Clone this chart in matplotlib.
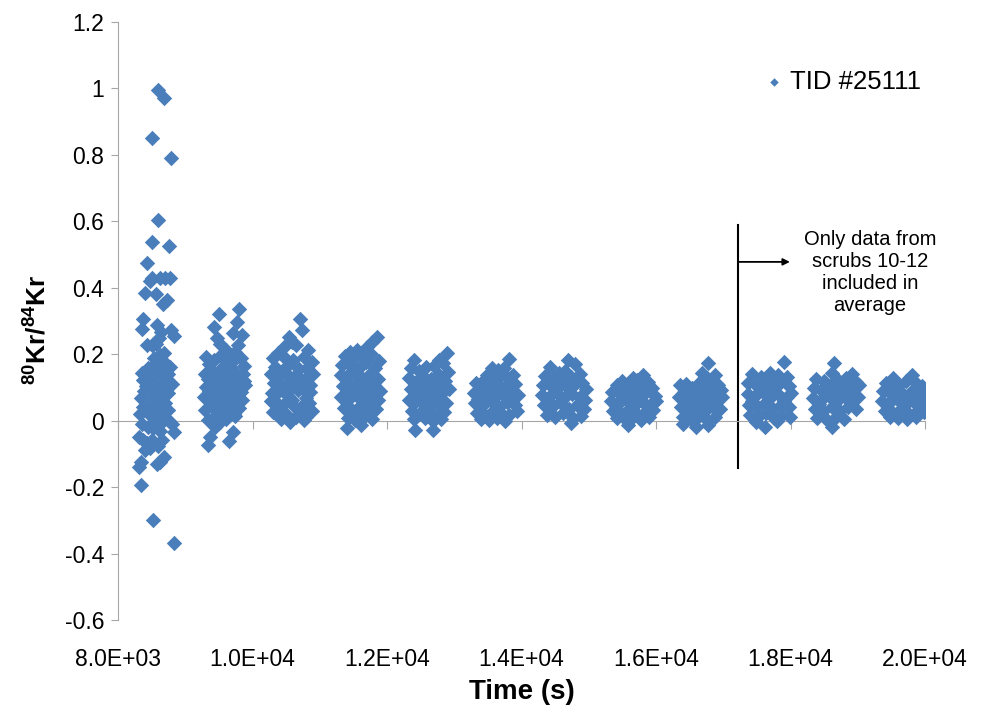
import matplotlib.pyplot as plt
import numpy as np

plt.rcParams['font.family'] = ['Liberation Sans', 'DejaVu Sans']
plt.rcParams['mathtext.fontset'] = 'custom'
plt.rcParams['mathtext.rm'] = 'Liberation Sans'
plt.rcParams['mathtext.bf'] = 'Liberation Sans:bold'

# (time in s, 80Kr/84Kr), one list per scrub
scrub1 = [(8600, 0.995), (8685, 0.970), (8510, 0.852), (8790, 0.792), (8600, 0.605), (8500, 0.537),
          (8765, 0.525), (8435, 0.475), (8500, 0.428), (8625, 0.428), (8700, 0.430), (8775, 0.428),
          (8400, 0.385), (8675, 0.352), (8735, 0.362), (8375, 0.305), (8350, 0.275), (8575, 0.288),
          (8785, 0.272), (8835, 0.255), (8425, 0.228), (8500, 0.228), (8625, 0.198), (8650, 0.183),
          (8575, 0.178), (8770, 0.163), (8350, 0.144), (8400, 0.138), (8375, 0.122), (8690, 0.143),
          (8715, 0.122), (8660, 0.102), (8480, 0.102), (8540, 0.113), (8335, 0.067), (8375, 0.042),
          (8425, 0.032), (8750, 0.082), (8700, 0.052), (8660, 0.022), (8740, 0.032), (8555, -0.003),
          (8610, -0.013), (8525, -0.023), (8830, -0.033), (8310, -0.048), (8375, -0.058), (8425, -0.068),
          (8510, -0.058), (8650, -0.058), (8400, -0.088), (8470, -0.083), (8690, -0.108), (8625, -0.123),
          (8580, -0.130), (8335, -0.123), (8310, -0.138), (8335, -0.194), (8515, -0.299), (8830, -0.367),
          (8450, 0.160), (8560, 0.150), (8600, 0.090), (8520, 0.070), (8630, 0.060), (8460, 0.125),
          (8580, 0.040), (8700, 0.092), (8800, 0.110), (8610, 0.250), (8560, 0.232), (8640, 0.268),
          (8510, 0.012), (8450, -0.018), (8720, 0.172), (8680, 0.205), (8600, 0.175), (8620, 0.140),
          (8390, 0.090), (8540, 0.190), (8470, 0.420), (8560, 0.382), (8800, -0.010), (8760, 0.000),
          (8590, -0.075), (8480, 0.150), (8410, 0.105), (8640, 0.080), (8560, 0.060), (8700, 0.012),
          (8330, 0.020), (8470, 0.050), (8620, -0.030), (8360, -0.010), (8740, 0.140)]
scrub2 = [(9505, 0.321), (9805, 0.335), (9420, 0.281), (9765, 0.298), (9465, 0.248), (9715, 0.263),
          (9840, 0.258), (9610, 0.213), (9745, 0.208), (9510, 0.232), (9790, 0.228),
          (9305, 0.192), (9355, 0.171), (9425, 0.184), (9520, 0.195), (9645, 0.201), (9700, 0.178),
          (9825, 0.188), (9880, 0.166), (9290, 0.142), (9385, 0.153), (9462, 0.128), (9560, 0.161),
          (9618, 0.137), (9722, 0.149), (9795, 0.126), (9862, 0.141), (9312, 0.102), (9405, 0.114),
          (9478, 0.088), (9545, 0.108), (9663, 0.097), (9752, 0.113), (9832, 0.086), (9893, 0.107),
          (9282, 0.071), (9362, 0.058), (9444, 0.079), (9524, 0.061), (9604, 0.072), (9688, 0.055),
          (9771, 0.081), (9848, 0.062), (9298, 0.032), (9392, 0.041), (9470, 0.018), (9562, 0.027),
          (9641, 0.044), (9718, 0.021), (9803, 0.038), (9332, 0.002), (9421, 0.012), (9502, -0.008),
          (9612, 0.004), (9745, 0.014), (9440, -0.018), (9370, -0.048), (9345, -0.073), (9715, -0.033),
          (9655, -0.060), (9340, 0.125), (9500, 0.150), (9680, 0.125), (9440, 0.045), (9590, 0.090),
          (9760, 0.052), (9870, 0.120), (9590, 0.180), (9360, 0.090)]
scrub3 = [(10705, 0.305), (10730, 0.273), (10540, 0.252), (10580, 0.238), (10470, 0.221), (10650, 0.228),
          (10380, 0.205), (10820, 0.214), (10300, 0.188), (10450, 0.196), (10600, 0.182), (10760, 0.191),
          (10880, 0.176), (10340, 0.162), (10520, 0.168), (10690, 0.155), (10810, 0.160), (10270, 0.140),
          (10420, 0.147), (10560, 0.131), (10640, 0.138), (10780, 0.126), (10900, 0.142), (10320, 0.112),
          (10480, 0.105), (10610, 0.118), (10740, 0.097), (10860, 0.108), (10290, 0.082), (10400, 0.088),
          (10530, 0.075), (10670, 0.091), (10800, 0.069), (10350, 0.055), (10460, 0.048), (10590, 0.062),
          (10720, 0.041), (10840, 0.052), (10310, 0.025), (10500, 0.019), (10700, 0.028), (10880, 0.030),
          (10420, 0.006), (10560, -0.004), (10760, 0.002), (10640, 0.012), (10370, 0.125), (10700, 0.120),
          (10560, 0.095), (10400, 0.030), (10620, 0.045), (10790, 0.010), (10850, 0.085), (10280, 0.060)]
scrub4 = [(11845, 0.253), (11700, 0.223), (11450, 0.208), (11780, 0.236), (11560, 0.212), (11380, 0.196),
          (11500, 0.185), (11640, 0.192), (11760, 0.201), (11880, 0.181), (11330, 0.168), (11430, 0.172),
          (11580, 0.160), (11690, 0.176), (11820, 0.158), (11310, 0.138), (11410, 0.128), (11520, 0.145),
          (11620, 0.131), (11740, 0.142), (11860, 0.124), (11350, 0.104), (11470, 0.098), (11560, 0.112),
          (11680, 0.094), (11800, 0.106), (11900, 0.089), (11320, 0.072), (11440, 0.065), (11540, 0.078),
          (11650, 0.058), (11760, 0.071), (11870, 0.062), (11360, 0.038), (11480, 0.031), (11600, 0.044),
          (11720, 0.028), (11840, 0.036), (11420, 0.008), (11530, 0.002), (11660, 0.010), (11780, 0.004),
          (11400, -0.023), (11610, -0.012), (11480, 0.150), (11700, 0.118), (11580, 0.088), (11400, 0.085),
          (11820, 0.080), (11540, 0.020), (11700, 0.050)]
scrub5 = [(12885, 0.203), (12780, 0.183), (12400, 0.183), (12830, 0.175), (12700, 0.165), (12360, 0.160),
          (12480, 0.150), (12580, 0.162), (12900, 0.148), (12330, 0.128), (12440, 0.120), (12540, 0.135),
          (12650, 0.126), (12760, 0.140), (12860, 0.118), (12350, 0.094), (12470, 0.088), (12590, 0.101),
          (12700, 0.092), (12810, 0.084), (12920, 0.096), (12320, 0.062), (12420, 0.055), (12530, 0.068),
          (12640, 0.049), (12750, 0.060), (12870, 0.052), (12370, 0.030), (12490, 0.024), (12610, 0.036),
          (12720, 0.018), (12840, 0.027), (12400, 0.004), (12560, 0.008), (12680, -0.002), (12800, 0.006),
          (12420, -0.028), (12680, -0.028), (12520, 0.110), (12760, 0.112), (12600, 0.070), (12450, 0.075),
          (12800, 0.045), (12560, 0.045)]
scrub6 = [(13815, 0.185), (13560, 0.160), (13650, 0.152), (13740, 0.158), (13480, 0.138), (13600, 0.130),
          (13710, 0.142), (13800, 0.128), (13870, 0.136), (13320, 0.112), (13420, 0.118), (13530, 0.106),
          (13640, 0.114), (13760, 0.101), (13900, 0.110), (13290, 0.082), (13390, 0.088), (13500, 0.074),
          (13610, 0.086), (13720, 0.078), (13840, 0.084), (13950, 0.076), (13310, 0.052), (13430, 0.046),
          (13550, 0.058), (13670, 0.042), (13790, 0.055), (13910, 0.048), (13340, 0.024), (13460, 0.018),
          (13580, 0.030), (13700, 0.022), (13820, 0.016), (13930, 0.028), (13400, 0.004), (13520, 0.002),
          (13640, 0.008), (13760, 0.000), (13470, 0.095), (13690, 0.100), (13580, 0.065), (13360, 0.065),
          (13850, 0.065), (13620, 0.138)]
scrub7 = [(14690, 0.183), (14420, 0.163), (14560, 0.143), (14790, 0.170), (14640, 0.150), (14870, 0.140),
          (14350, 0.135), (14480, 0.128), (14740, 0.132), (14320, 0.108), (14430, 0.114), (14540, 0.102),
          (14660, 0.118), (14780, 0.106), (14900, 0.112), (14960, 0.096), (14310, 0.078), (14410, 0.072),
          (14520, 0.084), (14630, 0.068), (14750, 0.080), (14870, 0.070), (14950, 0.062), (14340, 0.046),
          (14460, 0.040), (14580, 0.052), (14700, 0.036), (14820, 0.048), (14930, 0.034), (14380, 0.016),
          (14500, 0.010), (14620, 0.022), (14760, 0.008), (14880, 0.014), (14740, -0.008), (14480, 0.095),
          (14700, 0.095), (14590, 0.060), (14820, 0.125), (14400, 0.060), (14560, 0.120)]
scrub8 = [(15800, 0.138), (15650, 0.128), (15500, 0.120), (15720, 0.122), (15880, 0.116), (15420, 0.108),
          (15580, 0.104), (15760, 0.100), (15940, 0.098), (15340, 0.086), (15460, 0.080), (15600, 0.090),
          (15700, 0.076), (15840, 0.084), (15980, 0.074), (15330, 0.058), (15440, 0.052), (15560, 0.062),
          (15680, 0.048), (15800, 0.056), (15920, 0.050), (16000, 0.060), (15360, 0.030), (15480, 0.024),
          (15600, 0.034), (15720, 0.020), (15850, 0.028), (15960, 0.032), (15420, 0.008), (15540, 0.004),
          (15660, 0.010), (15780, 0.002), (15900, 0.012), (15580, -0.013), (15520, 0.092), (15760, 0.070),
          (15640, 0.065), (15400, 0.045), (15880, 0.040)]
scrub9 = [(16780, 0.173), (16690, 0.143), (16880, 0.138), (16760, 0.128), (16820, 0.118), (16640, 0.112),
          (16920, 0.108), (16350, 0.106), (16440, 0.110), (16530, 0.098), (16600, 0.090), (16720, 0.094),
          (16850, 0.088), (16960, 0.092), (16340, 0.072), (16460, 0.066), (16570, 0.078), (16680, 0.062),
          (16790, 0.074), (16900, 0.064), (16980, 0.070), (16370, 0.040), (16490, 0.034), (16610, 0.046),
          (16730, 0.030), (16850, 0.042), (16950, 0.036), (16400, 0.010), (16520, 0.004), (16640, 0.014),
          (16760, 0.002), (16880, 0.012), (16400, -0.010), (16600, -0.020), (16780, -0.012), (16520, 0.060),
          (16740, 0.055), (16900, 0.110), (16620, 0.025), (16420, 0.085)]
scrub10 = [(17905, 0.178), (17420, 0.140), (17560, 0.130), (17700, 0.145), (17820, 0.138), (17950, 0.132),
           (17370, 0.112), (17480, 0.106), (17600, 0.118), (17720, 0.100), (17850, 0.112), (17980, 0.104),
           (17360, 0.080), (17470, 0.074), (17590, 0.086), (17700, 0.068), (17820, 0.080), (17940, 0.072),
           (18010, 0.084), (17380, 0.048), (17500, 0.042), (17620, 0.054), (17740, 0.036), (17860, 0.048),
           (17980, 0.040), (17400, 0.018), (17520, 0.012), (17640, 0.022), (17760, 0.008), (17880, 0.016),
           (17990, 0.010), (17480, -0.004), (17620, -0.018), (17800, 0.000), (17540, 0.095), (17770, 0.120),
           (17660, 0.070), (17430, 0.060), (17900, 0.060)]
scrub11 = [(18640, 0.175), (18620, 0.143), (18920, 0.140), (18380, 0.126), (18500, 0.118), (18700, 0.122),
           (18820, 0.128), (18980, 0.116), (18350, 0.098), (18460, 0.092), (18580, 0.104), (18700, 0.088),
           (18820, 0.100), (18950, 0.094), (19020, 0.106), (18340, 0.068), (18450, 0.062), (18570, 0.074),
           (18690, 0.058), (18810, 0.070), (18930, 0.064), (19010, 0.072), (18370, 0.036), (18490, 0.030),
           (18610, 0.042), (18740, 0.028), (18860, 0.040), (18980, 0.034), (18400, 0.008), (18520, 0.004),
           (18680, 0.012), (18800, 0.006), (18620, -0.018), (18760, 0.110), (18520, 0.080), (18640, 0.090),
           (18880, 0.070), (18420, 0.050)]
scrub12 = [(19530, 0.128), (19800, 0.138), (19420, 0.112), (19620, 0.108), (19720, 0.118), (19880, 0.110),
           (19960, 0.104), (19370, 0.088), (19480, 0.082), (19580, 0.094), (19690, 0.078), (19800, 0.090),
           (19920, 0.084), (20020, 0.076), (19360, 0.058), (19470, 0.052), (19590, 0.064), (19700, 0.048),
           (19820, 0.060), (19940, 0.054), (20030, 0.046), (19400, 0.030), (19520, 0.024), (19640, 0.034),
           (19760, 0.020), (19880, 0.030), (19990, 0.026), (19480, 0.012), (19600, 0.008), (19730, 0.005),
           (19860, 0.010), (19530, 0.100), (19760, 0.070), (19640, 0.070), (19900, 0.060)]

scrubs = [scrub1, scrub2, scrub3, scrub4, scrub5, scrub6, scrub7, scrub8, scrub9, scrub10, scrub11, scrub12]
x_ticks = [8000, 10000, 12000, 14000, 16000, 18000, 20000]
y_ticks = [-0.6, -0.4, -0.2, 0, 0.2, 0.4, 0.6, 0.8, 1.0, 1.2]
y_tick_labels = ['-0.6', '-0.4', '-0.2', '0', '0.2', '0.4', '0.6', '0.8', '1', '1.2']

cutoff_time = 17220
note_text = 'Only data from\nscrubs 10-12\nincluded in\naverage'

pts = np.array([p for s in scrubs for p in s])
t, r = pts[:, 0], pts[:, 1]

blue = '#4A7EBB'
grey = '#A6A6A6'

fig = plt.figure(figsize=(9.82, 7.11), dpi=100)
ax = fig.add_axes([0.1202, 0.128, 0.8218, 0.841])

ax.scatter(t, r, marker='D', s=62, color=blue, linewidths=0, label='TID #25111', zorder=3)

ax.set_xlim(8000, 20000)
ax.set_ylim(-0.6, 1.2)

# spines: y axis on the left, x axis line crosses at 0
ax.spines['top'].set_visible(False)
ax.spines['right'].set_visible(False)
ax.spines['left'].set_color(grey)
ax.spines['bottom'].set_color(grey)
ax.spines['bottom'].set_position(('data', 0))

ax.set_yticks(y_ticks)
ax.set_yticklabels(y_tick_labels)
ax.tick_params(axis='y', direction='out', length=5, color=grey, labelsize=16.5, pad=5)
ax.set_xticks(x_ticks)
ax.tick_params(axis='x', direction='out', length=6, color=grey, labelbottom=False)

# tick labels sit low, below the plot
sec = ax.secondary_xaxis('bottom')
sec.set_xticks(x_ticks)
sec.set_xticklabels([f'{v:.1E}' for v in x_ticks])
sec.spines['bottom'].set_visible(False)
sec.tick_params(length=0, labelsize=16.5, pad=20)

ax.set_xlabel('Time (s)', fontsize=20, fontweight='bold')
ax.xaxis.set_label_coords(0.5, -0.12)
ax.xaxis.label.set_va('center')
ax.set_ylabel(r'$\mathbf{^{80}Kr/^{84}Kr}$', fontsize=19)
ax.yaxis.set_label_coords(-0.1, 0.485)
ax.yaxis.label.set_va('center')

# cutoff marker and note
ax.plot([cutoff_time, cutoff_time], [-0.142, 0.589], color='black', lw=1.5)
ax.annotate('', xy=(17990, 0.478), xytext=(cutoff_time, 0.478),
            arrowprops=dict(arrowstyle='-|>', color='black', lw=1.3, mutation_scale=10,
                            shrinkA=0, shrinkB=0))
ax.text(19183, 0.445, note_text, ha='center', va='center', fontsize=14.5,
        linespacing=1.2)

ax.legend(loc='center left', bbox_to_anchor=(0.803, 0.9), frameon=False, fontsize=18.5,
          markerscale=0.55, handlelength=0.6, handletextpad=0.35, borderpad=0, borderaxespad=0)

fig.savefig('out.png', dpi=100)
